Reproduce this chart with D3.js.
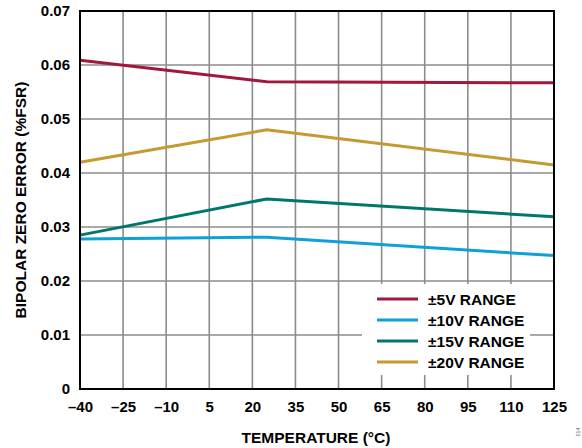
<!DOCTYPE html>
<html>
<head>
<meta charset="utf-8">
<script src="https://cdn.jsdelivr.net/npm/d3@7"></script>
<style>
  body { margin: 0; background: #fff; }
  svg { display: block; font-family: "Liberation Sans", Arial, sans-serif; font-weight: bold; }
</style>
</head>
<body>
<svg id="chart" width="582" height="448"></svg>
<script>
const temps = [-40, 25, 125]
const range5 = [0.0609, 0.0569, 0.0567]
const range10 = [0.0278, 0.0281, 0.0247]
const range15 = [0.0285, 0.0352, 0.0319]
const range20 = [0.0420, 0.0480, 0.0415]
const seriesNames = ['±5V RANGE', '±10V RANGE', '±15V RANGE', '±20V RANGE']
const xTicks = [-40, -25, -10, 5, 20, 35, 50, 65, 80, 95, 110, 125]
const yTicks = [0, 0.01, 0.02, 0.03, 0.04, 0.05, 0.06, 0.07]

const colors = ['#a3173f', '#0ea0d6', '#00776b', '#c59a2f']
const values = [range5, range10, range15, range20]

const svg = d3.select('#chart')
const pLeft = 80, pRight = 554, pTop = 11, pBottom = 389

const x = d3.scaleLinear().domain([-40, 125]).range([pLeft, pRight])
const y = d3.scaleLinear().domain([0, 0.07]).range([pBottom, pTop])

const fmtX = d => d < 0 ? '\u2013' + Math.abs(d) : String(d)
const fmtY = d => d === 0 ? '0' : d3.format('.2f')(d)

// grid
const grid = svg.append('g').attr('stroke', '#8c8c8c').attr('stroke-width', 1.6)
grid.append('g').selectAll('line')
  .data(xTicks.slice(1, -1))
  .join('line')
    .attr('x1', d => x(d)).attr('x2', d => x(d))
    .attr('y1', pTop).attr('y2', pBottom)
grid.append('g').selectAll('line')
  .data(yTicks.slice(1, -1))
  .join('line')
    .attr('x1', pLeft).attr('x2', pRight)
    .attr('y1', d => y(d)).attr('y2', d => y(d))

// axes labels
svg.append('g')
  .attr('transform', `translate(0,${pBottom})`)
  .call(d3.axisBottom(x).tickValues(xTicks).tickFormat(fmtX).tickSize(0).tickPadding(12))
  .call(g => g.select('.domain').remove())
  .call(g => g.selectAll('text').attr('font-size', 15).attr('fill', '#000')
    .attr('font-family', '"Liberation Sans", Arial, sans-serif').attr('font-weight', 'bold'))

svg.append('g')
  .attr('transform', `translate(${pLeft},0)`)
  .call(d3.axisLeft(y).tickValues(yTicks).tickFormat(fmtY).tickSize(0).tickPadding(10))
  .call(g => g.select('.domain').remove())
  .call(g => g.selectAll('text').attr('font-size', 15).attr('fill', '#000')
    .attr('font-family', '"Liberation Sans", Arial, sans-serif').attr('font-weight', 'bold'))

// lines
const line = d3.line().x((d, i) => x(temps[i])).y(d => y(d))
svg.append('g')
  .selectAll('path')
  .data(values)
  .join('path')
    .attr('d', d => line(d))
    .attr('fill', 'none')
    .attr('stroke', (d, i) => colors[i])
    .attr('stroke-width', 3)

// legend
const lg = svg.append('g')
lg.append('rect')
  .attr('x', 362).attr('y', 284).attr('width', 168).attr('height', 91)
  .attr('fill', '#fff')
const rows = lg.selectAll('g')
  .data(seriesNames)
  .join('g')
    .attr('transform', (d, i) => `translate(377,${299 + i * 21})`)
rows.append('line')
  .attr('x1', 0).attr('x2', 41)
  .attr('stroke', (d, i) => colors[i])
  .attr('stroke-width', 3)
rows.append('text')
  .attr('x', 51).attr('dy', '0.36em')
  .attr('font-size', 15.5)
  .text(d => d)

// frame
svg.append('rect')
  .attr('x', pLeft).attr('y', pTop)
  .attr('width', pRight - pLeft).attr('height', pBottom - pTop)
  .attr('fill', 'none').attr('stroke', '#000').attr('stroke-width', 2)

// titles
svg.append('text')
  .attr('x', 316).attr('y', 443)
  .attr('text-anchor', 'middle').attr('font-size', 15.5)
  .text('TEMPERATURE (°C)')

svg.append('text')
  .attr('transform', `translate(26,${(pTop + pBottom) / 2}) rotate(-90)`)
  .attr('text-anchor', 'middle').attr('font-size', 15.5)
  .text('BIPOLAR ZERO ERROR (%FSR)')

svg.append('text')
  .attr('transform', 'translate(580,432) rotate(-90)')
  .attr('text-anchor', 'middle').attr('font-size', 5).attr('font-weight', 'normal')
  .attr('fill', '#666')
  .text('014')
</script>
</body>
</html>
